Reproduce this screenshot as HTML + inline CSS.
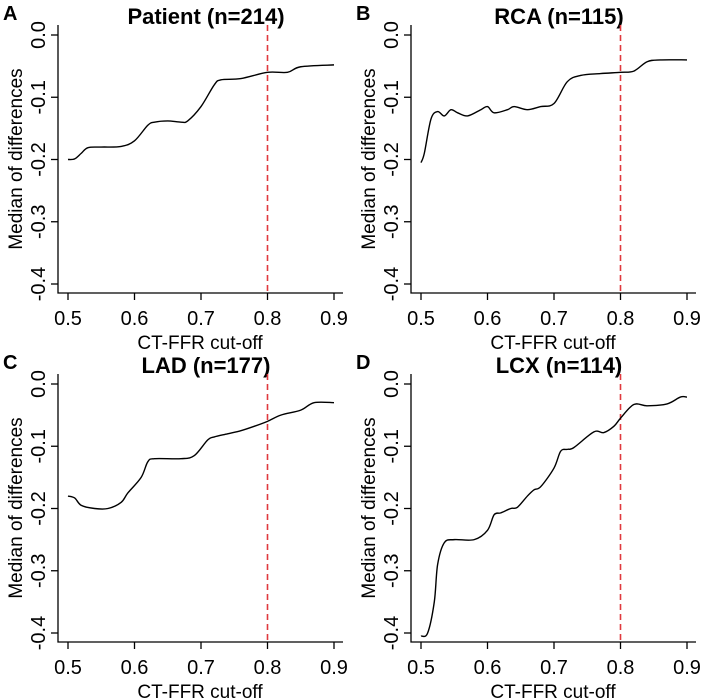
<!DOCTYPE html>
<html><head><meta charset="utf-8"><style>
html,body{margin:0;padding:0;background:#fff;}
svg{display:block;font-family:"Liberation Sans",Arial,sans-serif;}
</style></head><body>
<svg id="fig" width="703" height="698" viewBox="0 0 703 698"></svg>
<script>
const xTicks=[0.5,0.6,0.7,0.8,0.9];
const yTicks=[0.0,-0.1,-0.2,-0.3,-0.4];
const yTickLabels=["0.0","-0.1","-0.2","-0.3","-0.4"];
const cutoff=0.8;
const titles=["Patient (n=214)","RCA (n=115)","LAD (n=177)","LCX (n=114)"];
const letters=["A","B","C","D"];
const xA=[0.50,0.51,0.52,0.53,0.55,0.58,0.60,0.62,0.63,0.65,0.67,0.68,0.70,0.72,0.73,0.76,0.80,0.83,0.85,0.90];
const yA=[-0.20,-0.199,-0.19,-0.181,-0.18,-0.179,-0.17,-0.145,-0.14,-0.138,-0.14,-0.138,-0.115,-0.08,-0.072,-0.07,-0.06,-0.06,-0.051,-0.048];
const xB=[0.50,0.505,0.515,0.525,0.535,0.545,0.555,0.57,0.59,0.60,0.61,0.63,0.64,0.66,0.68,0.70,0.72,0.74,0.77,0.80,0.82,0.84,0.86,0.90];
const yB=[-0.205,-0.19,-0.135,-0.123,-0.13,-0.12,-0.125,-0.13,-0.12,-0.115,-0.125,-0.12,-0.115,-0.12,-0.115,-0.11,-0.075,-0.065,-0.062,-0.06,-0.058,-0.043,-0.04,-0.04];
const xC=[0.50,0.51,0.52,0.54,0.56,0.58,0.59,0.61,0.62,0.63,0.67,0.69,0.71,0.72,0.74,0.76,0.78,0.80,0.82,0.85,0.87,0.90];
const yC=[-0.18,-0.183,-0.195,-0.2,-0.2,-0.19,-0.175,-0.15,-0.125,-0.12,-0.12,-0.115,-0.09,-0.085,-0.08,-0.075,-0.068,-0.06,-0.05,-0.042,-0.03,-0.03];
const xD=[0.50,0.51,0.52,0.525,0.535,0.55,0.58,0.60,0.61,0.62,0.635,0.645,0.66,0.67,0.68,0.70,0.71,0.72,0.73,0.76,0.775,0.79,0.80,0.82,0.84,0.87,0.89,0.90];
const yD=[-0.405,-0.4,-0.35,-0.29,-0.255,-0.25,-0.25,-0.235,-0.21,-0.207,-0.2,-0.198,-0.18,-0.17,-0.165,-0.135,-0.108,-0.105,-0.102,-0.077,-0.078,-0.068,-0.055,-0.033,-0.035,-0.032,-0.021,-0.021];
const seriesX=[xA,xB,xC,xD], seriesY=[yA,yB,yC,yD];
const offsets=[[0,0],[353,0],[0,349],[353,349]];
const NS="http://www.w3.org/2000/svg";
const svg=document.getElementById('fig');
function el(t,a,p){const e=document.createElementNS(NS,t);for(const k in a)e.setAttribute(k,a[k]);(p||svg).appendChild(e);return e;}
for(let p=0;p<4;p++){
  const [ox,oy]=offsets[p];
  const g=el('g',{transform:`translate(${ox},${oy})`});
  
  
  const sx=v=>68+(v-0.5)/0.4*266;
  const sy=v=>35+(0-v)/0.4*249;
  const axL=58, axB=293;
  const ax=el('path',{d:`M${axL},25V${axB}H343`,stroke:'#000','stroke-width':1.3,fill:'none'},g);
  
  xTicks.forEach(t=>{
    el('line',{x1:sx(t),x2:sx(t),y1:axB,y2:axB+7,stroke:'#000','stroke-width':1.3},g);
    const tx=el('text',{x:sx(t),y:axB+32,'font-size':20,'text-anchor':'middle'},g);
    tx.textContent=t.toFixed(1);
    
  });
  yTicks.forEach((t,i)=>{
    el('line',{x1:axL-7,x2:axL,y1:sy(t),y2:sy(t),stroke:'#000','stroke-width':1.3},g);
    const tx=el('text',{x:0,y:0,'font-size':20,'text-anchor':'middle',transform:`translate(${axL-13},${sy(t)}) rotate(-90)`},g);
    tx.textContent=yTickLabels[i];
    
  });
  const xl=el('text',{x:200,y:349,'font-size':19,'text-anchor':'middle'},g);
  xl.textContent='CT-FFR cut-off';
  
  const yl=el('text',{x:0,y:0,'font-size':19,'text-anchor':'middle',transform:`translate(22,159) rotate(-90)`},g);
  yl.textContent='Median of differences';
  
  const ti=el('text',{x:206,y:24,'font-size':22,'font-weight':'bold','text-anchor':'middle'},g);
  ti.textContent=titles[p];
  
  const lt=el('text',{x:3,y:20,'font-size':20,'font-weight':'bold'},g);
  lt.textContent=letters[p];
  
  const cl=el('line',{x1:sx(cutoff),x2:sx(cutoff),y1:25,y2:axB,stroke:'#e0393e','stroke-width':1.6,'stroke-dasharray':'6,4'},g);
  
  const X=seriesX[p],Y=seriesY[p];
  const pts=X.map((x,i)=>[sx(x),sy(Y[i])]);
  let d=`M${pts[0][0]},${pts[0][1]}`;
  for(let i=0;i<pts.length-1;i++){
    const p0=pts[Math.max(0,i-1)],p1=pts[i],p2=pts[i+1],p3=pts[Math.min(pts.length-1,i+2)];
    const c1=[p1[0]+(p2[0]-p0[0])/6,p1[1]+(p2[1]-p0[1])/6];
    const c2=[p2[0]-(p3[0]-p1[0])/6,p2[1]-(p3[1]-p1[1])/6];
    d+=`C${c1[0]},${c1[1]} ${c2[0]},${c2[1]} ${p2[0]},${p2[1]}`;
  }
  const ln=el('path',{d:d,stroke:'#000','stroke-width':1.4,fill:'none'},g);
  
}
</script>
</body></html>
